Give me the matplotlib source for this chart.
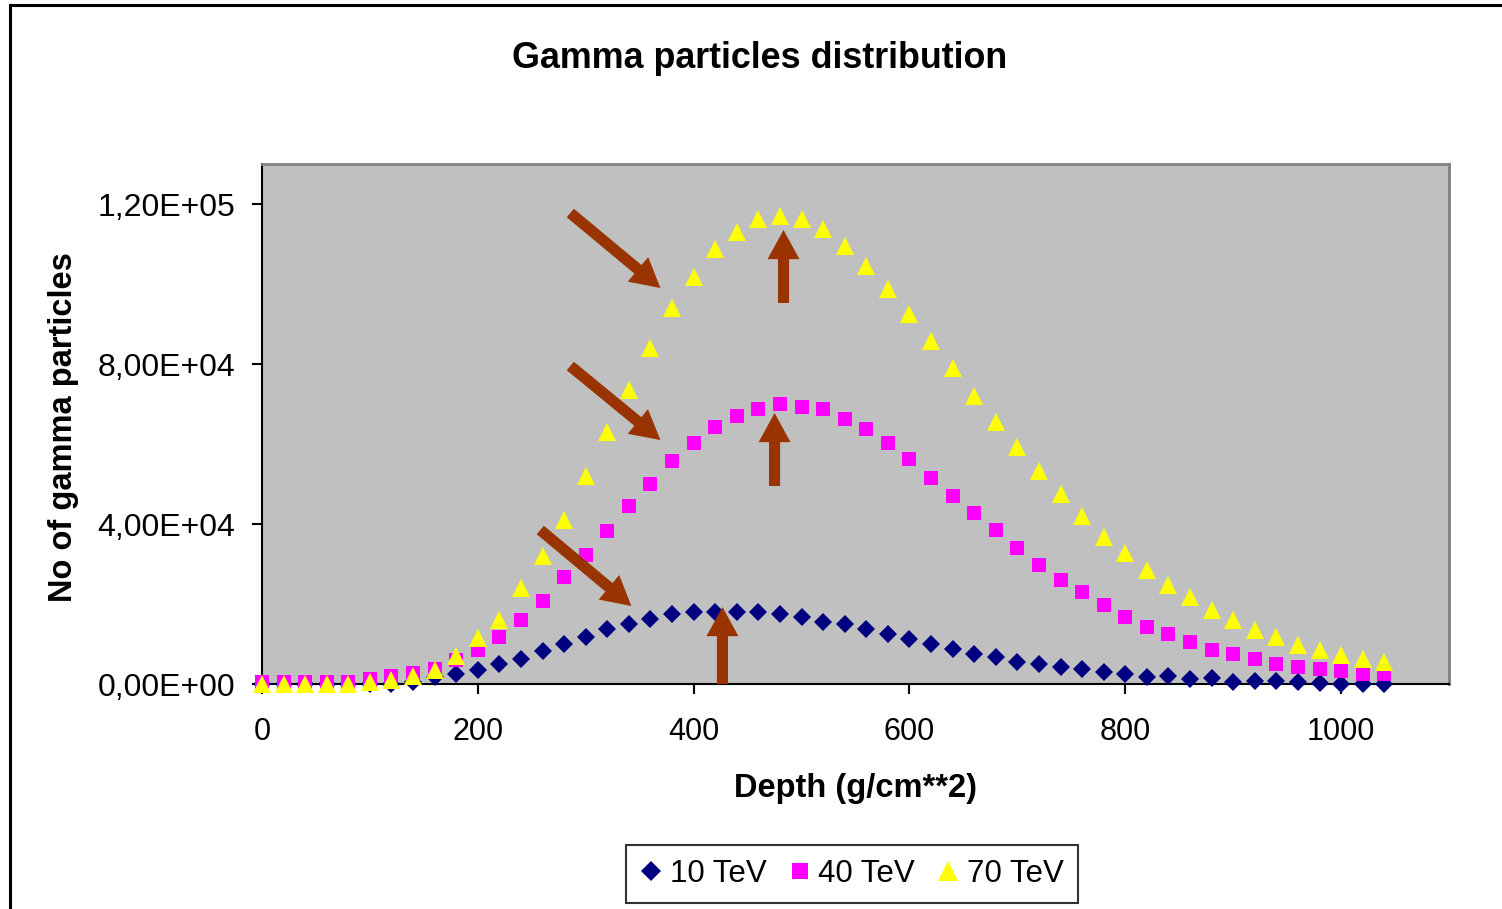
import matplotlib
matplotlib.use("Agg")
import matplotlib.pyplot as plt
from matplotlib.lines import Line2D
from matplotlib.patches import FancyArrowPatch
from matplotlib.ticker import FuncFormatter

plt.rcParams['font.family'] = ['Liberation Sans', 'DejaVu Sans']

# Atmospheric depth (g/cm**2), sampled every 20
depth = list(range(0, 1041, 20))

# Number of gamma particles per primary energy
gamma_10tev = [0, 0, 0, 0, 0, 0, 0, 500, 1800, 2400,
               3600, 4900, 6150, 8300, 10000, 11800, 13700, 14900, 16200, 17400,
               17900, 18000, 18000, 18000, 17400, 16700, 15600, 14900, 13700, 12500,
               11250, 10000, 8750, 7500, 6800, 5600, 5000, 4300, 3700, 3100,
               2500, 1800, 2000, 1250, 1400, 600, 800, 800, 600, 300,
               0, 0, 0]
gamma_40tev = [600, 600, 600, 600, 600, 1250, 2000, 2650, 3750, 6000,
               8500, 11700, 16000, 20800, 26700, 32250, 38250, 44500, 50000, 55750,
               60250, 64250, 67000, 68750, 70000, 69250, 68750, 66250, 63750, 60250,
               56250, 51500, 47000, 42750, 38500, 34000, 29750, 26000, 23000, 19750,
               16800, 14300, 12500, 10600, 8600, 7500, 6250, 5000, 4300, 3750,
               3250, 2500, 2400]
gamma_70tev = [0, 0, 0, 0, 0, 500, 1000, 2000, 3500, 7000,
               11500, 16000, 24000, 32000, 41000, 52000, 63000, 73500, 84000, 94000,
               101750, 108750, 113000, 116250, 117000, 116250, 113750, 109500, 104500, 98750,
               92500, 85750, 79000, 72000, 65500, 59250, 53250, 47500, 42000, 36750,
               32750, 28400, 24750, 21700, 18400, 16000, 13500, 11700, 9750, 8600,
               7300, 6250, 5600]

series_labels = ['10 TeV', '40 TeV', '70 TeV']
x_ticks = [0, 200, 400, 600, 800, 1000]
y_ticks = [0, 40000, 80000, 120000]

# Arrows marking the rising slope and the maximum of each curve (tail -> head)
arrows = [((285.7, 117750), (369.2, 99000)),
          ((483.3, 95250), (483.3, 113500)),
          ((285.7, 79500), (369.2, 61000)),
          ((475.0, 49500), (475.0, 67750)),
          ((257.9, 38500), (342.3, 19500)),
          ((426.7, 0), (426.7, 19250))]

W, H = 1502, 909
fig = plt.figure(figsize=(W / 100, H / 100), dpi=100)
fig.patch.set_facecolor('white')

# Outer chart frame (left and top edges visible)
fig.add_artist(Line2D([9.7 / W, 9.7 / W], [0, 1 - 5 / H], color='black', lw=2.2,
                      solid_capstyle='projecting'))
fig.add_artist(Line2D([9.7 / W, 1], [1 - 5 / H, 1 - 5 / H], color='black', lw=2.2,
                      solid_capstyle='projecting'))

ax = fig.add_axes([262 / W, 1 - 684 / H, (1449 - 262) / W, (684 - 164) / H])
ax.set_facecolor('#C0C0C0')

ax.plot(depth, gamma_10tev, linestyle='none', marker='D', markersize=9.0,
        color='#000080', markeredgewidth=0, clip_on=False, label=series_labels[0], zorder=3)
ax.plot(depth, gamma_40tev, linestyle='none', marker='s', markersize=10.3,
        color='#FF00FF', markeredgewidth=0, clip_on=False, label=series_labels[1], zorder=4)
ax.plot(depth, gamma_70tev, linestyle='none', marker='^', markersize=12.5,
        color='#FFFF00', markeredgewidth=0, clip_on=False, label=series_labels[2], zorder=5)

for tail, head in arrows:
    ax.add_patch(FancyArrowPatch(tail, head,
                                 arrowstyle='simple,head_length=21,head_width=23,tail_width=8',
                                 mutation_scale=1, color='#993300', lw=0,
                                 shrinkA=0, shrinkB=0, zorder=6, clip_on=False))

ax.set_xlim(0, 1100)
ax.set_ylim(0, 130000)
ax.set_xticks(x_ticks)
ax.set_yticks(y_ticks)
ax.yaxis.set_major_formatter(FuncFormatter(lambda v, p: f"{v:.2E}".replace('.', ',')))

for side in ('left', 'bottom'):
    ax.spines[side].set_color('black')
    ax.spines[side].set_linewidth(1.5)
for side in ('top', 'right'):
    ax.spines[side].set_color('#808080')
    ax.spines[side].set_linewidth(2.0)

ax.tick_params(axis='both', direction='out', length=7, width=1.5, color='black')
ax.tick_params(axis='y', pad=12, labelsize=23)
ax.tick_params(axis='x', pad=17, labelsize=22)

ax.set_xlabel('Depth (g/cm**2)', fontsize=23.5, fontweight='bold')
ax.xaxis.set_label_coords((856 - 262) / (1449 - 262), -(773 - 684) / (684 - 164))
ax.set_ylabel('No of gamma particles', fontsize=23.5, fontweight='bold')
ax.yaxis.set_label_coords(-(262 - 79) / (1449 - 262), (684 - 427) / (684 - 164))

fig.text(760 / W, 1 - 58 / H, 'Gamma particles distribution', fontsize=25.8,
         fontweight='bold', ha='center', va='center')

leg = fig.legend(loc='center', bbox_to_anchor=(852 / W, 1 - 874 / H), ncol=3,
                 fontsize=22.5, frameon=True, fancybox=False, edgecolor='black',
                 handlelength=0.7, handletextpad=0.25, columnspacing=0.7,
                 borderpad=0.45, borderaxespad=0, markerscale=1.1)
leg.get_frame().set_linewidth(1.5)

fig.savefig('out.png', dpi=100)
